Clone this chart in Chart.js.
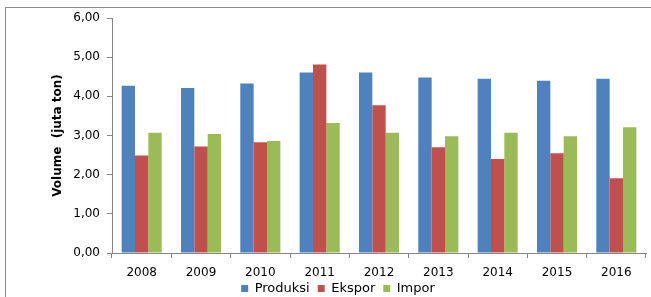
<!DOCTYPE html>
<html>
<head>
<meta charset="utf-8">
<script src="https://cdn.jsdelivr.net/npm/chart.js@4.4.1/dist/chart.umd.min.js"></script>
<style>
  html, body { margin: 0; padding: 0; background: #fff; overflow: hidden; }
  #wrap { position: relative; width: 651px; height: 297px; }
  #frame { position: absolute; left: 5px; top: 7px; width: 700px; height: 400px; border: 1px solid #8c8c8c; }
  #chart { position: absolute; left: 0; top: 0; }
</style>
</head>
<body>
<div id="wrap">
  <div id="frame"></div>
  <canvas id="chart" width="651" height="297"></canvas>
</div>
<script>
const years = ['2008', '2009', '2010', '2011', '2012', '2013', '2014', '2015', '2016'];
const produksi = [4.27, 4.21, 4.33, 4.61, 4.61, 4.48, 4.45, 4.40, 4.45];
const ekspor = [2.49, 2.72, 2.83, 4.81, 3.77, 2.70, 2.40, 2.55, 1.91];
const impor = [3.07, 3.04, 2.86, 3.32, 3.07, 2.98, 3.07, 2.98, 3.21];
const yTicks = [0, 1, 2, 3, 4, 5, 6];

const axisGray = '#868686';
const fontFamily = '"DejaVu Sans", Verdana, sans-serif';

Chart.defaults.font.family = fontFamily;
Chart.defaults.font.size = 12;
Chart.defaults.color = '#000';

// legend sits tight under the year labels, closer than chart.js stacks it
const legendUp = {
  id: 'legendUp',
  afterLayout(chart) {
    chart.legend.top -= 7;
    chart.legend.bottom -= 7;
  }
};

const ctx = document.getElementById('chart').getContext('2d');
const chart = new Chart(ctx, {
  type: 'bar',
  data: {
    labels: years,
    datasets: [
      { label: 'Produksi', data: produksi, backgroundColor: '#4F81BD' },
      { label: 'Ekspor', data: ekspor, backgroundColor: '#C0504D' },
      { label: 'Impor', data: impor, backgroundColor: '#9BBB59' }
    ]
  },
  plugins: [legendUp],
  options: {
    responsive: false,
    animation: false,
    devicePixelRatio: 1,
    // left padding only moves the legend centre; the y axis width makes up for it
    // negative bottom lets the legend's own padding hang below the canvas
    layout: { padding: { top: 18, right: 5, left: 30, bottom: -15 } },
    datasets: {
      bar: { categoryPercentage: 0.675, barPercentage: 1.0 }
    },
    plugins: {
      legend: {
        position: 'bottom',
        labels: {
          boxWidth: 7,
          boxHeight: 7,
          padding: 8,
          font: { size: 13 }
        }
      },
      tooltip: { enabled: false }
    },
    scales: {
      x: {
        afterFit: (scale) => { scale.height = 28; },
        grid: {
          display: true,
          drawOnChartArea: false,
          offset: true,
          tickLength: 5,
          tickColor: axisGray
        },
        border: { color: axisGray },
        ticks: { padding: 8, maxRotation: 0 }
      },
      y: {
        min: 0,
        max: 6,
        afterBuildTicks: (scale) => {
          scale.ticks = yTicks.map(v => ({ value: v }));
        },
        afterFit: (scale) => { scale.width = 82; },
        grid: {
          display: true,
          drawOnChartArea: false,
          tickLength: 5,
          tickColor: axisGray
        },
        border: { color: axisGray },
        ticks: {
          padding: 7,
          callback: (v) => v.toFixed(2).replace('.', ',')
        },
        title: {
          display: true,
          text: 'Volume  (juta ton)',
          font: { size: 12, weight: 'bold' },
          padding: { top: 21, bottom: 0 }
        }
      }
    }
  }
});
</script>
</body>
</html>
